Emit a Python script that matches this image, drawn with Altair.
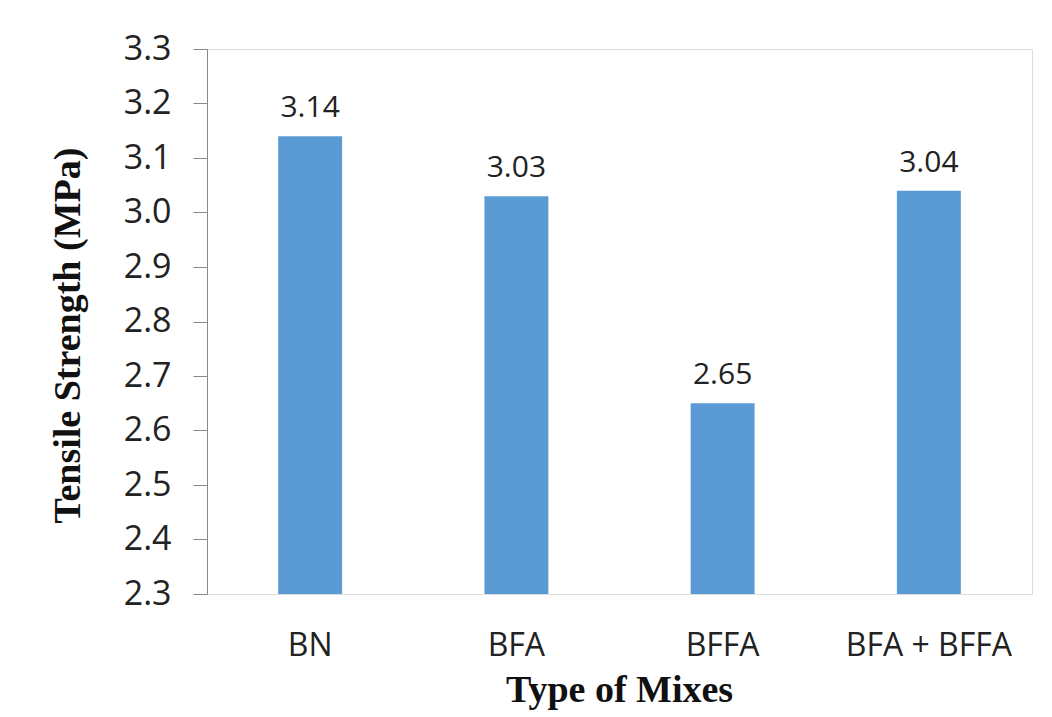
import altair as alt
import pandas as pd

mixes = ["BN", "BFA", "BFFA", "BFA + BFFA"]
strength = [3.14, 3.03, 2.65, 3.04]
y_ticks = [2.3, 2.4, 2.5, 2.6, 2.7, 2.8, 2.9, 3.0, 3.1, 3.2, 3.3]

df = pd.DataFrame({"mix": mixes, "value": strength, "base": [2.3] * len(mixes)})

x = alt.X(
    "mix:N",
    sort=mixes,
    scale=alt.Scale(paddingInner=0.69, paddingOuter=0.345),
    axis=alt.Axis(
        title="Type of Mixes",
        labelAngle=0,
        ticks=False,
        domain=False,
        labelFont="Open Sans",
        labelFontSize=32,
        labelColor="#222222",
        labelPadding=36,
        titleFont="Liberation Serif",
        titleFontWeight="bold",
        titleFontSize=38,
        titleColor="#111111",
        titleX=412,
        titleY=96,
        titleBaseline="middle",
    ),
)

y = alt.Y(
    "value:Q",
    scale=alt.Scale(domain=[2.3, 3.3], zero=False, nice=False),
    axis=alt.Axis(
        title="Tensile Strength (MPa)",
        values=y_ticks,
        format=".1f",
        grid=False,
        tickSize=14,
        tickColor="#888888",
        domainColor="#888888",
        labelFont="Open Sans",
        labelFontSize=34,
        labelColor="#222222",
        labelPadding=22,
        titleFont="Liberation Serif",
        titleFontWeight="bold",
        titleFontSize=38,
        titleColor="#111111",
        titleX=-139,
        titleY=286,
        titleAngle=-90,
        titleAlign="center",
        titleBaseline="middle",
    ),
)

bars = alt.Chart(df).mark_bar(color="#5B9BD5").encode(x=x, y=y, y2="base:Q")

labels = alt.Chart(df).mark_text(
    font="Open Sans", fontSize=30, color="#222222", baseline="alphabetic", dy=-19
).encode(x=alt.X("mix:N", sort=mixes), y="value:Q", text=alt.Text("value:Q", format=".2f"))

chart = (
    alt.layer(bars, labels)
    .properties(
        width=825,
        height=545,
        autosize=alt.AutoSizeParams(type="none"),
        padding={"left": 207, "top": 49, "right": 20, "bottom": 123},
    )
    .configure_view(stroke="#888888", strokeWidth=1.5)
    .configure(background="white")
)

chart.save("out.html", embed_options={"renderer": "svg", "actions": False})
